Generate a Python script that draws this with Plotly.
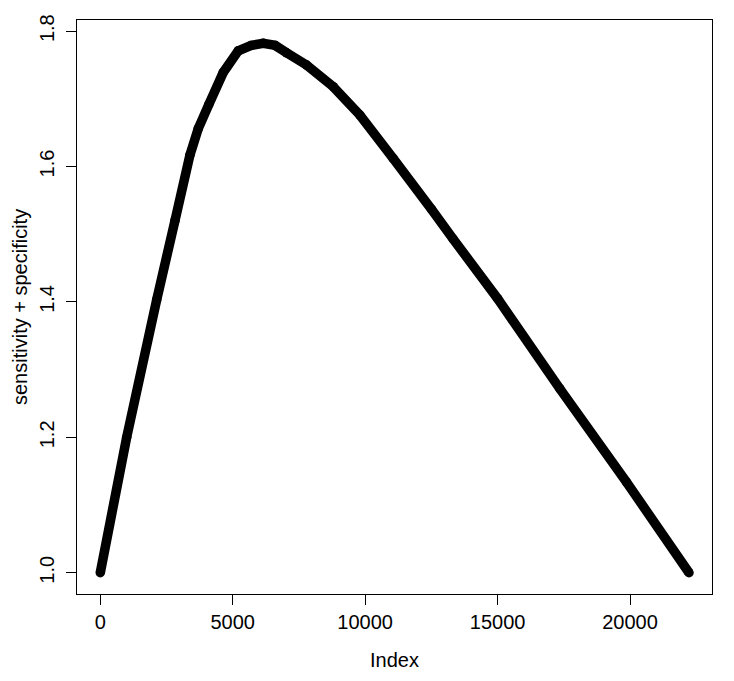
import plotly.graph_objects as go

# Values
index_vals = [0, 996, 2128, 2819, 3385, 3698, 4100, 4642, 5208, 5700, 6151,
              6600, 7034, 7789, 8792, 9800, 11057, 12500, 13321, 15000,
              17347, 19864, 22226]
sens_spec = [1.000, 1.200, 1.403, 1.520, 1.617, 1.656, 1.692, 1.739, 1.771,
             1.779, 1.782, 1.779, 1.768, 1.750, 1.718, 1.676, 1.612, 1.537,
             1.493, 1.405, 1.272, 1.134, 1.000]

x_ticks = [0, 5000, 10000, 15000, 20000]
y_ticks = [1.0, 1.2, 1.4, 1.6, 1.8]
x_title = "Index"
y_title = "sensitivity + specificity"

FONT = "Liberation Sans, Arial, Helvetica, sans-serif"

fig = go.Figure()
fig.add_trace(go.Scatter(
    x=index_vals, y=sens_spec, mode="lines+markers",
    line=dict(color="black", width=9.5, simplify=False),
    marker=dict(color="black", size=9.5, line=dict(width=0)),
    showlegend=False, hoverinfo="skip",
))

# the page body adds an 8px offset; figure sized to compensate
fig.update_layout(
    width=718, height=665,
    margin=dict(l=69, r=14, t=6, b=79),
    paper_bgcolor="white", plot_bgcolor="white",
    font=dict(family=FONT, size=20, color="black"),
    xaxis=dict(
        range=[-879, 23094], tickvals=x_ticks,
        ticktext=[str(v) for v in x_ticks],
        showgrid=False, zeroline=False,
        showline=True, linecolor="black", linewidth=1, mirror=True,
        ticks="outside", ticklen=10, tickcolor="black", tickwidth=1,
        ticklabelstandoff=0,
    ),
    yaxis=dict(
        range=[0.9686, 1.8165], tickvals=y_ticks,
        ticktext=[f"{v:.1f}" for v in y_ticks],
        showgrid=False, zeroline=False,
        showline=True, linecolor="black", linewidth=1, mirror=True,
        ticks="outside", ticklen=10, tickcolor="black", tickwidth=1,
        tickangle=-90, ticklabelstandoff=4,
    ),
    annotations=[
        dict(text=x_title, xref="paper", yref="paper", x=0.5, y=0,
             xanchor="center", yanchor="middle", yshift=-66,
             showarrow=False, font=dict(family=FONT, size=20)),
        dict(text=y_title, xref="paper", yref="paper", x=0, y=0.5,
             xanchor="center", yanchor="middle", xshift=-57, textangle=-90,
             showarrow=False, font=dict(family=FONT, size=20)),
    ],
)

fig.write_html("out.html")
